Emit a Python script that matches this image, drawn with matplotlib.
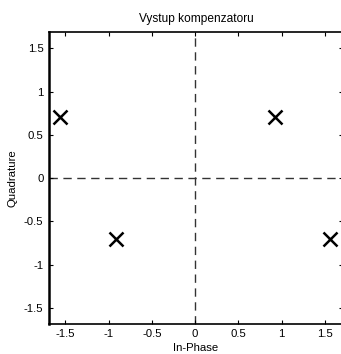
import numpy as np
import matplotlib
matplotlib.use("Agg")
import matplotlib.pyplot as plt

# constellation points after the compensator
in_phase = [-1.56, 0.92, -0.92, 1.56]
quadrature = [0.707, 0.707, -0.707, -0.707]

ticks = [-1.5, -1, -0.5, 0, 0.5, 1, 1.5]
tick_labels = ["-1.5", "-1", "-0.5", "0", "0.5", "1", "1.5"]

plt.rcParams['font.family'] = ['Liberation Sans', 'DejaVu Sans']

W, H = 341, 354
fig = plt.figure(figsize=(W / 100, H / 100), dpi=100)
ax = fig.add_axes([49 / W, (H - 323.5) / H, (343 - 49) / W, (323.5 - 32) / H])

ax.axhline(0, color='#333333', linestyle=(0, (6, 4)), linewidth=1.0, zorder=1)
ax.axvline(0, color='#333333', linestyle=(0, (6, 4)), linewidth=1.0, zorder=1)
ax.plot(in_phase, quadrature, linestyle='none', marker='x', color='black',
        markersize=10, markeredgewidth=1.8, zorder=3)

ax.set_xlim(-1.69, 1.71)
ax.set_ylim(-1.68, 1.69)
ax.set_xticks(ticks)
ax.set_xticklabels(tick_labels)
ax.set_yticks(ticks)
ax.set_yticklabels(tick_labels)
ax.tick_params(direction='in', length=3, width=0.8, labelsize=8.2,
               top=True, right=True, pad=4, colors='black')
for s in ax.spines.values():
    s.set_linewidth(1.2)
ax.spines['left'].set_linewidth(1.8)

ax.set_title("Vystup kompenzatoru", fontsize=8.6, pad=7)
ax.set_xlabel("In-Phase", fontsize=8.2, labelpad=2.5)
ax.set_ylabel("Quadrature", fontsize=8.2, labelpad=5)

fig.savefig("out.png", dpi=100)
